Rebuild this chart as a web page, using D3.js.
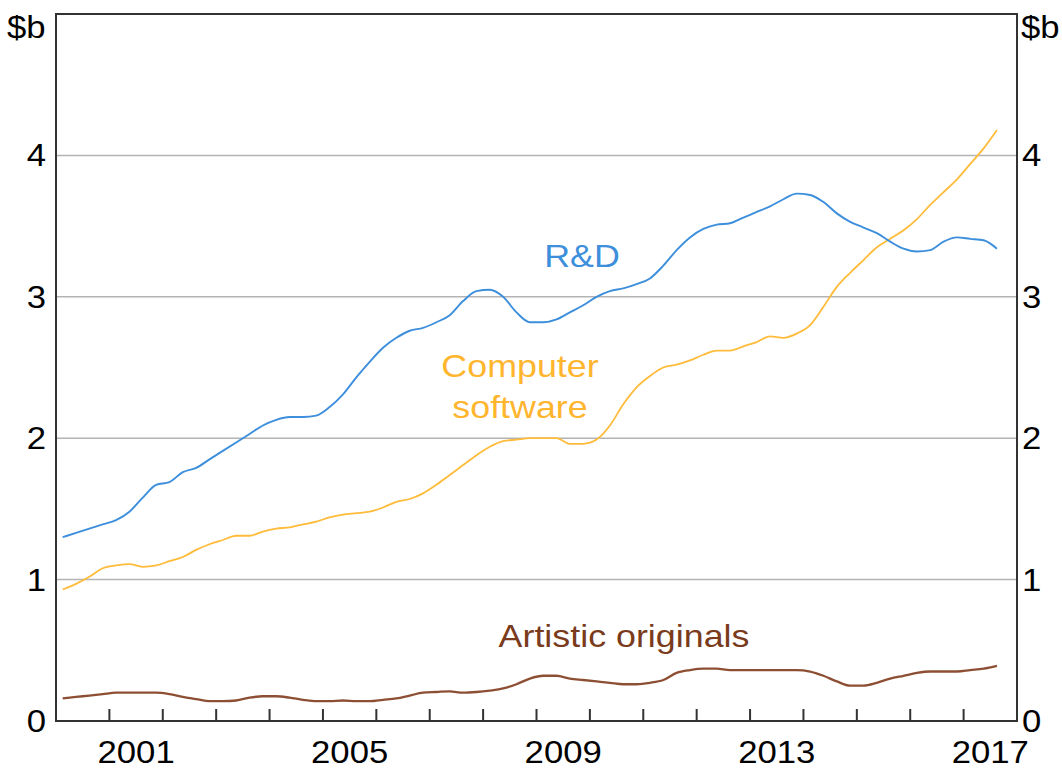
<!DOCTYPE html>
<html><head><meta charset="utf-8">
<script src="https://cdn.jsdelivr.net/npm/d3@7"></script>
<style>html,body{margin:0;padding:0;background:#fff;}svg{display:block;font-family:"Liberation Sans",Arial,sans-serif;}</style>
</head><body>
<svg id="c" width="1062" height="773"></svg>
<script>
const startYear = 2000, startQuarter = 1; // first observation: 2000 Q1
const rd = [1.30,1.33,1.36,1.39,1.42,1.48,1.58,1.67,1.69,1.76,1.79,1.85,1.91,1.97,2.03,2.09,2.13,2.15,2.15,2.16,2.22,2.31,2.43,2.54,2.64,2.71,2.76,2.78,2.82,2.87,2.97,3.04,3.05,3.00,2.89,2.82,2.82,2.84,2.89,2.94,3.00,3.04,3.06,3.09,3.13,3.22,3.33,3.42,3.48,3.51,3.52,3.56,3.60,3.64,3.69,3.73,3.72,3.67,3.59,3.53,3.49,3.45,3.39,3.34,3.32,3.33,3.39,3.42,3.41,3.40,3.34];
const software = [0.93,0.97,1.02,1.08,1.10,1.11,1.09,1.10,1.13,1.16,1.21,1.25,1.28,1.31,1.31,1.34,1.36,1.37,1.39,1.41,1.44,1.46,1.47,1.48,1.51,1.55,1.57,1.61,1.67,1.74,1.81,1.88,1.94,1.98,1.99,2.00,2.00,2.00,1.96,1.96,1.99,2.09,2.24,2.36,2.44,2.50,2.52,2.55,2.59,2.62,2.62,2.65,2.68,2.72,2.71,2.74,2.80,2.93,3.07,3.17,3.26,3.35,3.41,3.47,3.55,3.65,3.74,3.83,3.94,4.05,4.18];
const artistic = [0.16,0.17,0.18,0.19,0.20,0.20,0.20,0.20,0.19,0.17,0.155,0.14,0.14,0.145,0.165,0.175,0.175,0.165,0.15,0.14,0.14,0.145,0.14,0.14,0.15,0.16,0.18,0.20,0.205,0.21,0.20,0.205,0.215,0.23,0.26,0.30,0.32,0.32,0.30,0.29,0.28,0.27,0.26,0.26,0.27,0.29,0.34,0.36,0.37,0.37,0.36,0.36,0.36,0.36,0.36,0.36,0.35,0.32,0.28,0.25,0.25,0.27,0.30,0.32,0.34,0.35,0.35,0.35,0.36,0.37,0.39];
const yTicks = [0,1,2,3,4];
const xTickYears = [2001,2002,2003,2004,2005,2006,2007,2008,2009,2010,2011,2012,2013,2014,2015,2016,2017];
const xLabelYears = [2001,2005,2009,2013,2017];

// quarter midpoint positions (decimal years)
const t = rd.map((_, i) => startYear + (startQuarter - 1) * 0.25 + 0.125 + 0.25 * i);

const L = 56, R = 1017, T = 14, B = 721;
const SX = 1.12; // horizontal stretch of the lettering
const x = d3.scaleLinear().domain([2000, 2018]).range([L, R]);
const y = d3.scaleLinear().domain([0, 5]).range([B, T]);
const svg = d3.select("#c");

function label(g, px, py, txt, anchor, size, fill) {
  g.append("text").attr("transform", `translate(${px},${py}) scale(${SX},1)`)
    .attr("text-anchor", anchor).attr("font-size", size).attr("fill", fill).text(txt);
}

// gridlines
svg.append("g").selectAll("line").data(yTicks.filter(d => d > 0)).join("line")
  .attr("x1", L).attr("x2", R).attr("y1", d => y(d)).attr("y2", d => y(d))
  .attr("stroke", "#b3b3b3").attr("stroke-width", 1.5);

const line = d3.line().x((d, i) => x(t[i])).y(d => y(d)).curve(d3.curveMonotoneX);
const series = [
  {v: artistic, c: "#8d4f33", w: 2.3},
  {v: software, c: "#ffbb3a", w: 1.8},
  {v: rd, c: "#3d8fdc", w: 1.9}
];
svg.append("g").selectAll("path").data(series).join("path")
  .attr("d", d => line(d.v)).attr("fill", "none")
  .attr("stroke", d => d.c).attr("stroke-width", d => d.w).attr("stroke-linejoin", "round");

// frame
svg.append("rect").attr("x", L).attr("y", T).attr("width", R - L).attr("height", B - T)
  .attr("fill", "none").attr("stroke", "#333").attr("stroke-width", 2);

// x ticks
svg.append("g").selectAll("line").data(xTickYears).join("line")
  .attr("x1", d => x(d)).attr("x2", d => x(d)).attr("y1", B).attr("y2", B - 12)
  .attr("stroke", "#333").attr("stroke-width", 2);
const gx = svg.append("g");
xLabelYears.forEach(d => label(gx, x(d + 0.5), B + 42, d, "middle", 31, "#000"));

// y labels
const gy = svg.append("g");
yTicks.forEach(d => {
  label(gy, L - 10, y(d) + 11, d, "end", 31, "#000");
  label(gy, R + 5, y(d) + 11, d, "start", 31, "#000");
});
label(gy, 7, 38, "$b", "start", 31, "#000");
label(gy, 1021, 38, "$b", "start", 31, "#000");

// series labels
const lab = svg.append("g");
label(lab, 582, 267, "R&D", "middle", 32, "#3d8fdc");
label(lab, 520, 377, "Computer", "middle", 32, "#ffb52e");
label(lab, 520, 418, "software", "middle", 32, "#ffb52e");
label(lab, 624, 647, "Artistic originals", "middle", 32, "#7a3b1c");
</script>
</body></html>
